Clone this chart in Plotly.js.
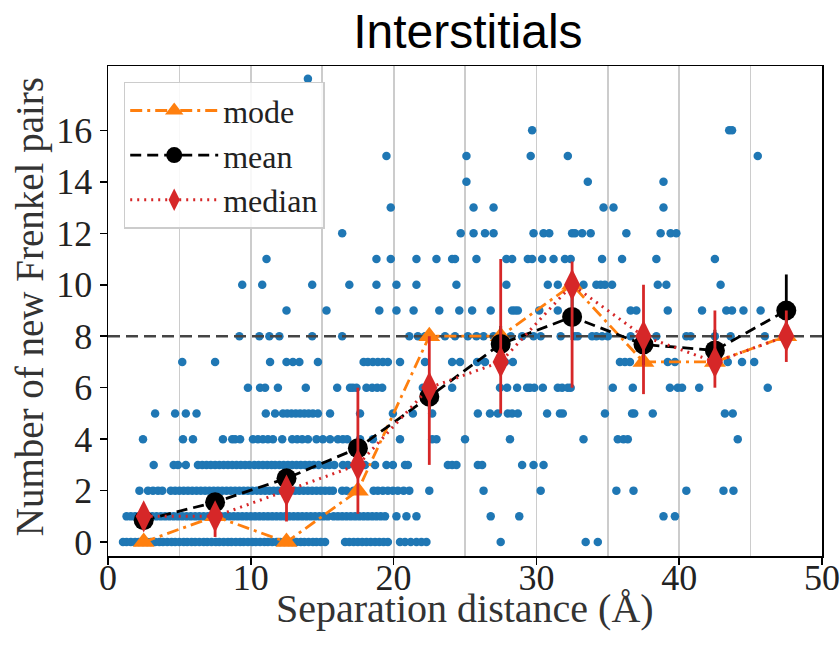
<!DOCTYPE html>
<html><head><meta charset="utf-8">
<script src="https://cdn.plot.ly/plotly-3.0.1.min.js"></script>
<style>html,body{margin:0;padding:0;background:#fff}#chart{width:840px;height:654px}</style>
</head><body><div id="chart"></div>
<script>
// ---- summary statistics per 5 Å bin ----
const binCenters = [2.5, 7.5, 12.5, 17.5, 22.5, 27.5, 32.5, 37.5, 42.5, 47.5];
const modeVals   = [0, 1, 0, 2, 8, 8, 10, 7, 7, 8];
const meanVals   = [0.85, 1.55, 2.48, 3.65, 5.65, 7.7, 8.75, 7.68, 7.45, 9.0];
const meanErr    = [0.1, 0.15, 0.2, 0.3, 0.5, 0.7, 0.9, 0.8, 0.8, 1.4];
const medianVals = [1, 1, 2, 3, 6, 7, 10, 8, 7, 8];
const medianErrPlus  = [0.3, 0.3, 0.4, 3.0, 2.0, 4.0, 0.9, 2.0, 2.0, 1.0];
const medianErrMinus = [0.3, 0.8, 1.2, 1.9, 3.0, 2.0, 4.0, 2.25, 1.0, 1.0];
const threshold = 8;

// ---- individual events: separation distance per number of new Frenkel pairs ----
const row0 = [1.05,1.3,1.6,1.9,2.15,2.45,2.75,3.0,3.3,3.6,3.85,4.15,4.45,4.7,5.0,5.3,5.55,5.85,6.1,6.4,6.7,6.95,7.25,7.55,7.8,8.1,8.4,8.65,8.95,9.25,9.5,9.8,10.1,10.35,10.65,10.95,11.2,11.5,11.8,12.05,12.35,12.65,12.9,13.2,13.5,13.75,14.05,14.35,14.6,14.9,15.2,16.6,16.9,17.2,17.5,17.8,18.1,18.4,18.7,19.0,19.3,19.6,20.45,20.8,21.2,21.6,21.95,22.3,27.5,33.45,34.3];
const row1 = [1.3,1.6,1.9,2.2,2.5,2.8,3.1,3.4,3.7,4.0,4.3,4.6,4.9,5.2,5.5,5.8,6.1,6.4,6.7,7.0,7.3,7.6,7.9,8.2,8.5,8.8,9.1,9.4,9.7,10.0,10.3,10.6,10.9,11.2,11.5,11.8,12.1,12.4,12.7,13.0,13.3,13.6,13.9,14.2,14.5,14.8,15.1,15.4,15.8,16.1,16.4,16.7,17.0,17.3,17.6,17.9,18.2,18.5,18.8,19.1,19.4,20.2,20.9,21.6,26.8,28.8,38.9,39.7];
const row2 = [2.2,2.8,3.15,3.5,3.8,4.4,4.7,5.0,5.3,5.6,5.9,6.2,6.5,6.8,7.1,7.4,7.7,8.0,8.3,8.6,8.9,9.2,9.5,9.8,10.1,10.4,10.7,11.0,11.3,11.6,11.9,12.2,12.5,12.8,13.1,13.4,13.7,14.0,14.3,14.6,14.9,15.2,15.5,15.75,16.4,16.7,17.2,17.45,18.6,18.9,19.25,19.6,19.95,20.3,20.7,21.1,22.5,26.3,30.3,35.6,36.8,40.5,43.1,43.8];
const row3 = [3.2,4.6,4.9,5.45,6.3,6.6,6.9,7.2,7.5,7.8,8.1,8.4,8.7,9.0,9.3,9.6,9.9,10.25,10.55,10.85,11.15,11.45,11.7,12.0,12.3,12.6,12.9,13.2,13.5,13.8,14.1,14.4,14.75,15.2,15.5,15.85,16.45,16.8,17.4,18.0,18.7,19.5,19.95,20.8,21.0,23.8,24.1,24.4,25.9,26.2,29.0,29.8,30.5];
const row4 = [2.45,5.25,5.95,8.05,8.7,8.9,9.25,10.15,10.5,10.85,11.2,11.55,12.2,12.9,13.25,13.6,14.0,14.6,15.05,15.55,16.1,16.45,16.75,17.65,18.55,20.45,22.7,23.0,25.0,28.15,33.3,35.7,36.1,36.4,44.1];
const row5 = [3.3,4.7,5.45,6.2,11.05,11.7,12.25,12.55,12.85,13.15,13.45,13.75,14.05,14.35,14.7,15.55,17.65,19.95,21.35,22.7,25.9,26.75,27.3,28.0,28.3,28.7,30.75,31.65,31.85,34.8,36.7,36.85,38.15,43.2,43.75];
const row6 = [9.8,10.65,11.0,11.9,13.85,16.05,16.95,17.15,17.4,18.1,18.5,18.85,19.2,22.05,24.1,27.45,27.95,28.65,29.35,29.55,29.85,30.45,31.5,31.8,32.2,32.4,35.35,36.75,39.35,39.9,40.2,41.4,46.2];
const row7 = [5.2,7.5,11.35,12.5,12.95,13.4,14.7,17.9,18.2,18.55,18.9,19.25,19.6,20.45,22.2,24.1,24.65,25.85,26.4,27.8,28.35,35.85,36.2,36.55,39.2,39.7,43.4,44.4,45.25];
const row8 = [9.2,10.6,11.3,12.0,14.3,16.4,21.1,21.7,22.2,23.6,24.3,25.2,25.8,26.3,27.0,28.2,29.0,29.8,30.3,31.7,32.7,32.9,33.9,34.2,34.6,35.0,36.6,38.4,40.5,40.8,42.5,43.6,46.0];
const row9 = [12.5,15.3,19.0,20.2,21.4,23.2,24.6,25.5,26.8,28.3,28.5,28.7,30.2,31.5,36.6,37.0,39.2,41.6,43.3,43.7,44.5,45.7];
const row10 = [9.4,10.8,14.3,16.9,18.8,20.2,21.6,24.4,27.9,30.8,31.5,33.3,34.2,34.5,34.8,35.3,38.5,39.1,42.9];
const row11 = [11.1,18.8,19.8,21.6,23.0,24.1,24.3,25.8,27.9,28.3,29.4,29.7,30.4,31.2,32.0,32.4,34.6,36.0,38.4,42.5];
const row12 = [16.4,24.7,25.6,26.4,27.0,29.8,30.5,30.9,32.5,32.7,33.2,33.8,36.3,38.7,39.4,39.8];
const row13 = [19.8,25.6,27.0,34.7,35.4,38.9];
const row14 = [25.1,33.6,38.9];
const row15 = [19.5,25.1,29.6,32.2,45.5];
const row16 = [29.7,43.5,43.7];
const row18 = [14.0];
const eventRows = [[0,row0],[1,row1],[2,row2],[3,row3],[4,row4],[5,row5],[6,row6],[7,row7],[8,row8],[9,row9],[10,row10],[11,row11],[12,row12],[13,row13],[14,row14],[15,row15],[16,row16],[18,row18]];

const xRange = [0, 50];
const yRange = [-0.54, 18.5];
const xTickVals = [0, 10, 20, 30, 40, 50];
const yTickVals = [0, 2, 4, 6, 8, 10, 12, 14, 16];

const evX = [], evY = [];
eventRows.forEach(([n, xs]) => xs.forEach(x => { evX.push(x); evY.push(n); }));

const serif = 'Liberation Serif, Times New Roman, serif';

const traces = [
  {x: evX, y: evY, type: 'scatter', mode: 'markers', showlegend: false, hoverinfo: 'skip',
   marker: {color: '#1f77b4', size: 8.5}},
  {x: xRange, y: [threshold, threshold], type: 'scatter', mode: 'lines', showlegend: false, hoverinfo: 'skip',
   line: {color: '#444444', width: 2.4, dash: '12px,6px'}},
  {x: binCenters, y: modeVals, name: 'mode', type: 'scatter', mode: 'lines+markers',
   line: {color: '#ff7f0e', width: 2.8, dash: '12px,5px,3px,5px'},
   marker: {symbol: 'triangle-up', size: 19, color: '#ff7f0e'}},
  {x: binCenters, y: meanVals, name: 'mean', type: 'scatter', mode: 'lines+markers',
   line: {color: '#000000', width: 2.8, dash: '11px,6px'},
   marker: {symbol: 'circle', size: 20, color: '#000000'},
   error_y: {type: 'data', array: meanErr, visible: true, color: '#000000', thickness: 2.8, width: 0}},
  {x: binCenters, y: medianVals, name: 'median', type: 'scatter', mode: 'lines+markers',
   line: {color: '#d62728', width: 3, dash: '2px,5px'},
   marker: {symbol: 'diamond-tall', size: 23, color: '#d62728'},
   error_y: {type: 'data', symmetric: false, array: medianErrPlus, arrayminus: medianErrMinus,
             visible: true, color: '#d62728', thickness: 2.8, width: 0}}
];

const layout = {
  width: 840, height: 654,
  margin: {l: 108, r: 18, t: 66, b: 98},
  paper_bgcolor: '#ffffff', plot_bgcolor: '#ffffff',
  title: {text: 'Interstitials', font: {family: 'Liberation Sans, Arial, sans-serif', size: 48, color: '#000'},
          x: 0.557, xref: 'container', xanchor: 'center', y: 0.952, yref: 'container', yanchor: 'middle'},
  xaxis: {range: xRange, tickvals: xTickVals, ticks: 'outside', ticklen: 7, tickwidth: 1.5, tickcolor: '#000',
          showline: true, linecolor: '#000', linewidth: 1.5, mirror: true, zeroline: false,
          showgrid: true, gridcolor: '#cccccc', gridwidth: 1.8,
          minor: {dtick: 5, tick0: 0, showgrid: true, gridcolor: '#cccccc', gridwidth: 1.8, ticks: ''},
          tickangle: 0, ticklabeloverflow: 'allow', ticklabelstandoff: -18,
          tickfont: {family: serif, size: 36, color: '#222'}, automargin: false},
  yaxis: {range: yRange, tickvals: yTickVals, ticks: 'outside', ticklen: 7, tickwidth: 1.5, tickcolor: '#000',
          showline: true, linecolor: '#000', linewidth: 1.5, mirror: true, zeroline: false, showgrid: false,
          tickangle: 0, ticklabeloverflow: 'allow',
          tickfont: {family: serif, size: 36, color: '#222'}, automargin: false},
  annotations: [
    {text: 'Separation distance (Å)', xref: 'paper', yref: 'paper', x: 0.5, y: -0.108,
     xanchor: 'center', yanchor: 'middle', showarrow: false, font: {family: serif, size: 40, color: '#333'}},
    {text: 'Number of new Frenkel pairs', xref: 'paper', yref: 'paper', x: -0.109, y: 0.508, textangle: -90,
     xanchor: 'center', yanchor: 'middle', showarrow: false, font: {family: serif, size: 39, color: '#333'}}
  ],
  legend: {x: 0.022, y: 0.968, xanchor: 'left', yanchor: 'top', bgcolor: 'rgba(255,255,255,0.85)',
           bordercolor: '#cccccc', borderwidth: 1.5, font: {family: serif, size: 32, color: '#222'},
           itemwidth: 88, tracegroupgap: 0},
  showlegend: true
};

Plotly.newPlot('chart', traces, layout, {displayModeBar: false, staticPlot: true});
</script>
</body></html>
